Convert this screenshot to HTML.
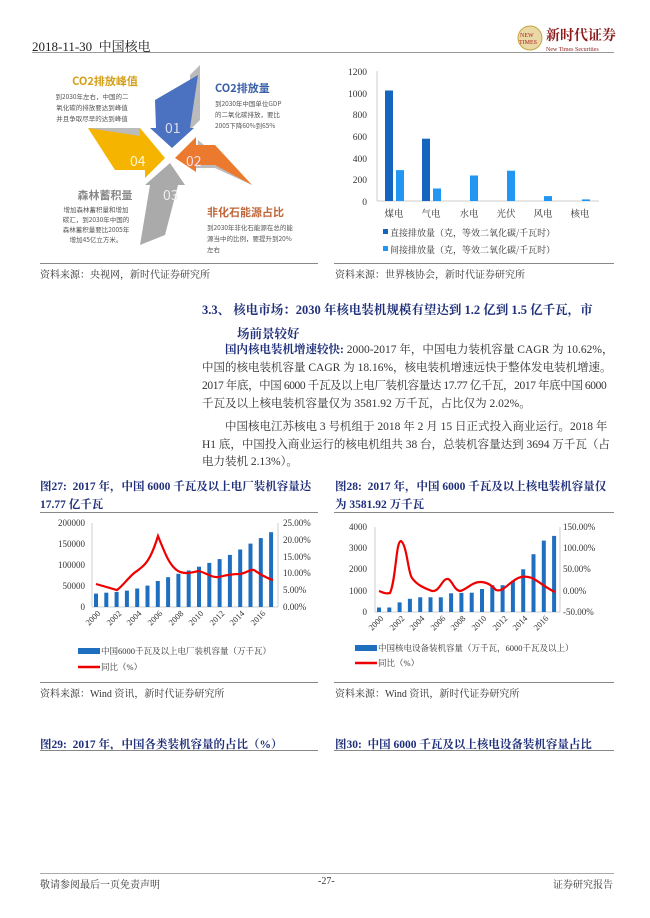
<!DOCTYPE html>
<html><head><meta charset="utf-8"><style>
body{margin:0;width:650px;height:918px;background:#fff;position:relative;font-family:"Liberation Serif","Noto Serif CJK SC",serif;color:#222;overflow:hidden}
.a{position:absolute;white-space:nowrap}
.cap{color:#1f2f7a;font-weight:bold;font-size:11.5px}
.p{font-size:11.5px;color:#333}
.ln{position:absolute;height:1px;background:#888}
.src{font-size:10px;color:#333}
</style></head><body>
<div class="a" style="left:32px;top:36px;font-size:13px">2018-11-30&nbsp; 中国核电</div>
<div class="ln" style="left:32px;top:52px;width:582px;background:#999"></div>
<svg class="a" style="left:516px;top:24px" width="100" height="30"><circle cx="14" cy="14" r="12" fill="#e9d9a6" stroke="#c9a440"/><text x="4" y="13" font-size="6" fill="#b02020" font-family="Liberation Serif">NEW</text><text x="3" y="20" font-size="6" fill="#b02020" font-family="Liberation Serif">TIMES</text><text x="30" y="16" font-size="14" fill="#8b1a1a" font-family="Noto Serif CJK SC,serif" font-weight="bold">新时代证券</text><text x="30" y="27" font-size="6" fill="#8b1a1a" font-family="Liberation Serif">New Times Securities</text></svg>

<svg class="a" style="left:32px;top:60px" width="290" height="200" font-family="Noto Sans CJK SC,sans-serif">
<g transform="translate(-32,-60)">
<polygon points="200,65 190,75 190,130 200,120" fill="#bbb"/>
<polygon points="155,100 198,75 190,128 194,128 172,148 150,128 156,128" fill="#4a72c0"/>
<polygon points="198,140 252,185 215,168 196,168" fill="#bbb"/>
<polygon points="175,158 196,137 196,145 215,145 252,185 215,165 196,165 196,172" fill="#ec7a2e"/>
<polygon points="88,128 140,128 148,140 115,140" fill="#bbb"/>
<polygon points="88,128 140,136 140,128 165,158 145,178 145,170 115,170" fill="#f5b400"/>
<polygon points="140,245 150,185 145,185 170,163 185,185 178,185 165,235" fill="#aaa"/>
<text x="165" y="133" font-size="14" fill="#dde">01</text>
<text x="186" y="166" font-size="14" fill="#fde">02</text>
<text x="130" y="166" font-size="14" fill="#fff6d0">04</text>
<text x="163" y="200" font-size="14" fill="#eee">03</text>
<text x="105" y="85" font-size="11" fill="#d4a017" text-anchor="middle" font-weight="bold">CO2排放峰值</text>
<text x="92" y="99" font-size="6.5" fill="#555" text-anchor="middle"><tspan x="92">到2030年左右，中国的二</tspan><tspan x="92" dy="11">氧化碳的排放要达到峰值</tspan><tspan x="92" dy="11">并且争取尽早的达到峰值</tspan></text>
<text x="215" y="92" font-size="11" fill="#3a5fa8" font-weight="bold">CO2排放量</text>
<text x="215" y="106" font-size="6.5" fill="#555"><tspan x="215">到2030年中国单位GDP</tspan><tspan x="215" dy="11">的二氧化碳排放，要比</tspan><tspan x="215" dy="11">2005下降60%到65%</tspan></text>
<text x="105" y="199" font-size="11" fill="#888" text-anchor="middle" font-weight="bold">森林蓄积量</text>
<text x="96" y="212" font-size="6.5" fill="#555" text-anchor="middle"><tspan x="96">增加森林蓄积量和增加</tspan><tspan x="96" dy="10">碳汇，到2030年中国的</tspan><tspan x="96" dy="10">森林蓄积量要比2005年</tspan><tspan x="96" dy="10">增加45亿立方米。</tspan></text>
<text x="207" y="216" font-size="11" fill="#c0673a" font-weight="bold">非化石能源占比</text>
<text x="207" y="230" font-size="6.5" fill="#555"><tspan x="207">到2030年非化石能源在总的能</tspan><tspan x="207" dy="11">源当中的比例，要提升到20%</tspan><tspan x="207" dy="11">左右</tspan></text>
</g></svg>

<svg class="a" style="left:330px;top:60px" width="290" height="200" font-family="Liberation Serif,Noto Serif CJK SC,serif">
<g transform="translate(-330,-60)" font-size="9.5" fill="#333">
<g text-anchor="end"><text x="367" y="75">1200</text><text x="367" y="97">1000</text><text x="367" y="118">800</text><text x="367" y="140">600</text><text x="367" y="162">400</text><text x="367" y="183">200</text><text x="367" y="205">0</text></g>
<line x1="377" y1="71" x2="377" y2="201" stroke="#ccc"/><line x1="377" y1="201" x2="599" y2="201" stroke="#ccc"/>
<g fill="#1565c0"><rect x="385" y="90.5" width="8" height="110.5"/><rect x="422" y="138.7" width="8" height="62.3"/></g>
<g fill="#2196f3"><rect x="396" y="170.1" width="8" height="30.9"/><rect x="433" y="188.5" width="8" height="12.5"/><rect x="470" y="175.5" width="8" height="25.5"/><rect x="507" y="170.7" width="8" height="30.3"/><rect x="544" y="196.1" width="8" height="4.9"/><rect x="582" y="199.4" width="8" height="1.6"/></g>
<g text-anchor="middle" font-family="Noto Serif CJK SC,serif"><text x="394" y="217">煤电</text><text x="431" y="217">气电</text><text x="469" y="217">水电</text><text x="506" y="217">光伏</text><text x="543" y="217">风电</text><text x="580" y="217">核电</text></g>
<rect x="383" y="229" width="5" height="5" fill="#1565c0"/><text x="390" y="236" font-size="9" font-family="Noto Serif CJK SC,serif">直接排放量（克，等效二氧化碳/千瓦时）</text>
<rect x="383" y="246" width="5" height="5" fill="#2196f3"/><text x="390" y="253" font-size="9" font-family="Noto Serif CJK SC,serif">间接排放量（克，等效二氧化碳/千瓦时）</text>
</g></svg>
<div class="ln" style="left:40px;top:263px;width:278px"></div>
<div class="ln" style="left:334px;top:263px;width:280px"></div>
<div class="a src" style="left:40px;top:266px">资料来源：央视网，新时代证券研究所</div>
<div class="a src" style="left:335px;top:266px">资料来源：世界核协会，新时代证券研究所</div>

<div class="a cap" style="left:202px;top:300px;font-size:12.5px">3.3、 核电市场：2030 年核电装机规模有望达到 1.2 亿到 1.5 亿千瓦，市</div>
<div class="a cap" style="left:237px;top:324px;font-size:12.5px">场前景较好</div>
<div class="a p" style="left:225px;top:341px"><b style="color:#1f2f7a">国内核电装机增速较快:</b> 2000-2017 年，中国电力装机容量 CAGR 为 10.62%，</div>
<div class="a p" style="left:202px;top:359px">中国的核电装机容量 CAGR 为 18.16%，核电装机增速远快于整体发电装机增速。</div>
<div class="a p" style="left:202px;top:377px;letter-spacing:-0.4px">2017 年底，中国 6000 千瓦及以上电厂装机容量达 17.77 亿千瓦，2017 年底中国 6000</div>
<div class="a p" style="left:202px;top:395px">千瓦及以上核电装机容量仅为 3581.92 万千瓦，占比仅为 2.02%。</div>
<div class="a p" style="left:225px;top:418px">中国核电江苏核电 3 号机组于 2018 年 2 月 15 日正式投入商业运行。2018 年</div>
<div class="a p" style="left:202px;top:436px">H1 底，中国投入商业运行的核电机组共 38 台，总装机容量达到 3694 万千瓦（占</div>
<div class="a p" style="left:202px;top:453px">电力装机 2.13%）。</div>

<div class="a cap" style="left:40px;top:478px">图27:&nbsp; 2017 年，中国 6000 千瓦及以上电厂装机容量达</div>
<div class="a cap" style="left:40px;top:496px">17.77 亿千瓦</div>
<div class="a cap" style="left:335px;top:478px">图28:&nbsp; 2017 年，中国 6000 千瓦及以上核电装机容量仅</div>
<div class="a cap" style="left:335px;top:496px">为 3581.92 万千瓦</div>
<div class="ln" style="left:40px;top:512px;width:278px"></div>
<div class="ln" style="left:334px;top:512px;width:280px"></div>

<svg class="a" style="left:0;top:510px" width="650" height="170" font-family="Liberation Serif,Noto Serif CJK SC,serif">
<g transform="translate(0,-510)" font-size="9" fill="#333">
<g text-anchor="end"><text x="85" y="526">200000</text><text x="85" y="547">150000</text><text x="85" y="568">100000</text><text x="85" y="589">50000</text><text x="85" y="610">0</text></g>
<g><text x="283" y="526">25.00%</text><text x="283" y="543">20.00%</text><text x="283" y="560">15.00%</text><text x="283" y="576">10.00%</text><text x="283" y="593">5.00%</text><text x="283" y="610">0.00%</text></g>
<line x1="92" y1="523" x2="92" y2="607" stroke="#ccc"/><line x1="278" y1="523" x2="278" y2="607" stroke="#ccc"/><line x1="92" y1="607" x2="278" y2="607" stroke="#ccc"/>
<g fill="#1e6fc0">
<rect x="94" y="593.6" width="4" height="13.4"/><rect x="104.3" y="592.7" width="4" height="14.3"/><rect x="114.6" y="591.9" width="4" height="15.1"/><rect x="124.9" y="590.6" width="4" height="16.4"/><rect x="135.2" y="588.5" width="4" height="18.5"/><rect x="145.5" y="585.6" width="4" height="21.4"/><rect x="155.8" y="581" width="4" height="26"/><rect x="166.1" y="577.2" width="4" height="29.8"/><rect x="176.4" y="573.8" width="4" height="33.2"/><rect x="186.7" y="570.5" width="4" height="36.5"/><rect x="197" y="566.7" width="4" height="40.3"/><rect x="207.3" y="562.9" width="4" height="44.1"/><rect x="217.6" y="559.1" width="4" height="47.9"/><rect x="227.9" y="554.9" width="4" height="52.1"/><rect x="238.2" y="549.5" width="4" height="57.5"/><rect x="248.5" y="543.6" width="4" height="63.4"/><rect x="258.8" y="538.1" width="4" height="68.9"/><rect x="269.1" y="532.2" width="4" height="74.8"/>
</g>
<path d="M96,584 C103,586 110,588 117,590 C124,585 130,575 137,571 C144,566 150,562 158,536 C166,556 170,566 178,571 C186,575 192,572 199,571 C206,573 212,578 219,577 C226,575 234,574 240,574 C247,573 250,569 254,570 C260,574 266,578 273,580" fill="none" stroke="#e00" stroke-width="2.2"/>
<g font-size="8.5" text-anchor="end">
<text transform="translate(101,614) rotate(-45)">2000</text><text transform="translate(122,614) rotate(-45)">2002</text><text transform="translate(142,614) rotate(-45)">2004</text><text transform="translate(163,614) rotate(-45)">2006</text><text transform="translate(184,614) rotate(-45)">2008</text><text transform="translate(204,614) rotate(-45)">2010</text><text transform="translate(225,614) rotate(-45)">2012</text><text transform="translate(245,614) rotate(-45)">2014</text><text transform="translate(266,614) rotate(-45)">2016</text>
</g>
<rect x="78" y="648" width="22" height="6" fill="#1e6fc0"/><text x="101" y="654" font-size="8.5">中国6000千瓦及以上电厂装机容量（万千瓦）</text>
<line x1="78" y1="667" x2="100" y2="667" stroke="#e00" stroke-width="2.5"/><text x="101" y="670" font-size="8.5">同比（%）</text>
<g text-anchor="end"><text x="367" y="530">4000</text><text x="367" y="551">3000</text><text x="367" y="572">2000</text><text x="367" y="594">1000</text><text x="367" y="615">0</text></g>
<g><text x="563" y="530">150.00%</text><text x="563" y="551">100.00%</text><text x="563" y="572">50.00%</text><text x="563" y="594">0.00%</text><text x="563" y="615">-50.00%</text></g>
<line x1="375" y1="527" x2="375" y2="612" stroke="#ccc"/><line x1="560" y1="527" x2="560" y2="612" stroke="#ccc"/><line x1="375" y1="612" x2="560" y2="612" stroke="#ccc"/>
<g fill="#1e6fc0">
<rect x="377" y="607.5" width="4" height="4.5"/><rect x="387.3" y="607.5" width="4" height="4.5"/><rect x="397.6" y="602.4" width="4" height="9.6"/><rect x="407.9" y="598.8" width="4" height="13.2"/><rect x="418.2" y="597.3" width="4" height="14.7"/><rect x="428.5" y="597.3" width="4" height="14.7"/><rect x="438.8" y="597.3" width="4" height="14.7"/><rect x="449.1" y="593.3" width="4" height="18.7"/><rect x="459.4" y="592.9" width="4" height="19.1"/><rect x="469.7" y="592.7" width="4" height="19.3"/><rect x="480" y="589" width="4" height="23"/><rect x="490.3" y="585.2" width="4" height="26.8"/><rect x="500.6" y="585.2" width="4" height="26.8"/><rect x="510.9" y="580.8" width="4" height="31.2"/><rect x="521.2" y="569.3" width="4" height="42.7"/><rect x="531.5" y="554.2" width="4" height="57.8"/><rect x="541.8" y="540.6" width="4" height="71.4"/><rect x="552.1" y="535.9" width="4" height="76.1"/>
</g>
<path d="M379,591 C384,593 386,594 390,593 C396,580 396,540 401,541 C407,545 408,573 412,578 C417,585 424,588 432,591 C440,592 442,578 448,579 C452,580 454,590 460,591 C466,590 472,582 480,582 C488,582 492,586 496,590 C502,592 506,586 512,582 C518,577 524,575 532,578 C540,582 546,588 555,592" fill="none" stroke="#e00" stroke-width="2.2"/>
<g font-size="8.5" text-anchor="end">
<text transform="translate(384,619) rotate(-45)">2000</text><text transform="translate(405,619) rotate(-45)">2002</text><text transform="translate(425,619) rotate(-45)">2004</text><text transform="translate(446,619) rotate(-45)">2006</text><text transform="translate(466,619) rotate(-45)">2008</text><text transform="translate(487,619) rotate(-45)">2010</text><text transform="translate(508,619) rotate(-45)">2012</text><text transform="translate(528,619) rotate(-45)">2014</text><text transform="translate(549,619) rotate(-45)">2016</text>
</g>
<rect x="355" y="645" width="22" height="6" fill="#1e6fc0"/><text x="378" y="651" font-size="8.5">中国核电设备装机容量（万千瓦，6000千瓦及以上）</text>
<line x1="355" y1="663" x2="377" y2="663" stroke="#e00" stroke-width="2.5"/><text x="378" y="666" font-size="8.5">同比（%）</text>
</g></svg>

<div class="ln" style="left:40px;top:682px;width:278px"></div>
<div class="ln" style="left:334px;top:682px;width:280px"></div>
<div class="a src" style="left:40px;top:685px">资料来源：Wind 资讯，新时代证券研究所</div>
<div class="a src" style="left:335px;top:685px">资料来源：Wind 资讯，新时代证券研究所</div>

<div class="a cap" style="left:40px;top:736px">图29:&nbsp; 2017 年，中国各类装机容量的占比（%）</div>
<div class="a cap" style="left:335px;top:736px">图30:&nbsp; 中国 6000 千瓦及以上核电设备装机容量占比</div>
<div class="ln" style="left:40px;top:750px;width:278px"></div>
<div class="ln" style="left:334px;top:750px;width:280px"></div>

<div class="ln" style="left:40px;top:873px;width:574px;background:#aaa"></div>
<div class="a src" style="left:40px;top:876px">敬请参阅最后一页免责声明</div>
<div class="a src" style="left:318px;top:876px">-27-</div>
<div class="a src" style="left:553px;top:876px">证券研究报告</div>
</body></html>
